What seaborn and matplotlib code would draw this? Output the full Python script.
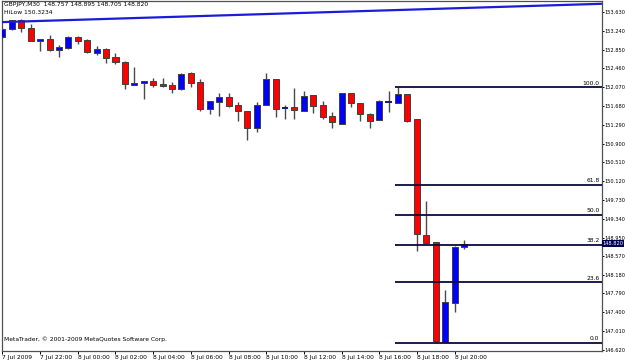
import numpy as np
import pandas as pd
import matplotlib
matplotlib.use("Agg")
import matplotlib.pyplot as plt
from matplotlib import font_manager
import seaborn as sns

# ---- data (GBPJPY M30, 7 Jul 2009 20:00 .. 8 Jul 20:30) ----
opens = [153.111, 153.277, 153.464, 153.292, 153.035, 153.064, 152.842, 152.877, 153.105, 153.055,
         152.786, 152.869, 152.696, 152.599, 152.115, 152.163, 152.192, 152.130, 152.109, 152.039,
         152.371, 152.184, 151.611, 151.757, 151.866, 151.694, 151.570, 151.230, 151.701, 152.234,
         151.638, 151.659, 151.582, 151.902, 151.701, 151.479, 151.313, 151.943, 151.736, 151.520,
         151.389, 151.757, 151.748, 151.923, 151.404, 149.003, 148.858, 146.783, 147.599, 148.757]
highs = [153.298, 153.474, 153.479, 153.381, 153.070, 153.153, 152.945, 153.126, 153.138, 153.070,
         152.925, 152.883, 152.786, 152.603, 152.495, 152.205, 152.267, 152.267, 152.184, 152.364,
         152.391, 152.240, 151.790, 151.949, 151.949, 151.763, 151.576, 151.769, 152.358, 152.240,
         151.707, 152.047, 151.991, 151.908, 151.784, 151.555, 151.956, 151.949, 151.742, 151.541,
         151.804, 151.997, 152.070, 151.929, 151.410, 149.709, 148.860, 147.862, 148.770, 148.895]
lows = [153.091, 153.257, 153.221, 153.022, 152.827, 152.827, 152.703, 152.869, 152.972, 152.786,
        152.738, 152.566, 152.557, 152.026, 152.109, 151.819, 152.074, 152.068, 151.956, 152.006,
        152.080, 151.582, 151.520, 151.479, 151.653, 151.369, 150.968, 151.147, 151.690, 151.458,
        151.410, 151.404, 151.576, 151.541, 151.404, 151.230, 151.306, 151.665, 151.375, 151.217,
        151.383, 151.562, 151.742, 151.342, 148.678, 148.837, 146.770, 146.775, 147.412, 148.705]
closes = [153.277, 153.464, 153.292, 153.035, 153.064, 152.848, 152.898, 153.111, 153.035, 152.794,
          152.869, 152.682, 152.593, 152.130, 152.163, 152.198, 152.115, 152.101, 152.026, 152.350,
          152.151, 151.611, 151.784, 151.866, 151.686, 151.576, 151.230, 151.701, 152.234, 151.611,
          151.638, 151.591, 151.887, 151.686, 151.458, 151.342, 151.943, 151.748, 151.520, 151.369,
          151.784, 151.757, 151.923, 151.375, 149.018, 148.844, 146.798, 147.607, 148.757, 148.820]

time_tick_bars = [0, 4, 8, 12, 16, 20, 24, 28, 32, 36, 40, 44, 48]
time_labels = ["7 Jul 2009", "7 Jul 22:00", "8 Jul 00:00", "8 Jul 02:00", "8 Jul 04:00",
               "8 Jul 06:00", "8 Jul 08:00", "8 Jul 10:00", "8 Jul 12:00", "8 Jul 14:00",
               "8 Jul 16:00", "8 Jul 18:00", "8 Jul 20:00"]
price_ticks = [146.620, 147.010, 147.400, 147.790, 148.180, 148.570, 148.950, 149.340, 149.730,
               150.120, 150.510, 150.900, 151.290, 151.680, 152.070, 152.460, 152.850, 153.240, 153.630]
price_tick_labels = ["146.620", "147.010", "147.400", "147.790", "148.180", "148.570", "148.950",
                     "149.340", "149.730", "150.120", "150.510", "150.900", "151.290", "151.680",
                     "152.070", "152.460", "152.850", "153.240", "153.630"]
current_price = 148.820
fib_levels = [0.0, 23.6, 38.2, 50.0, 61.8, 100.0]
fib_high = 152.070
fib_low = 146.770
fib_start_bar = 42
hilow_x = [-0.05, 63.6]
hilow_y = [153.42, 153.80]
title_text = "GBPJPY,M30  148.757 148.895 148.705 148.820"
hilow_text = "HiLow 150.3234"
copyright_text = "MetaTrader, \u00a9 2001-2009 MetaQuotes Software Corp."

# ---- style ----
sns.set_style("white")
plt.rcParams["font.family"] = ["DejaVu Sans"]
has_cond = any(f.name == "DejaVu Sans" and str(f.stretch) in ("condensed", "semi-condensed", "600", "500")
               for f in font_manager.fontManager.ttflist)
FS = 4.3
YFS = 4.1 if has_cond else 3.8
YSTRETCH = "condensed"

W, H = 625, 362
fig = plt.figure(figsize=(W / 100, H / 100), dpi=100)
fig.patch.set_facecolor("white")
ax = fig.add_axes([2 / W, (H - 350.5) / H, 599.5 / W, 349.5 / H])
ax.set_facecolor("white")

df = pd.DataFrame({"open": opens, "high": highs, "low": lows, "close": closes})
df["bar"] = np.arange(len(df))
df["bottom"] = df[["open", "close"]].min(axis=1)
df["height"] = (df["close"] - df["open"]).abs()
df["up"] = df["close"] >= df["open"]

# wicks
ax.vlines(df["bar"], df["low"], df["high"], color="#4a4a4a", lw=1.0, zorder=2)
# bodies
body = df[df["height"] > 0]
colors = np.where(body["up"], "#0000ff", "#ff0000")
ax.bar(body["bar"], body["height"], bottom=body["bottom"], width=0.64,
       color=colors, edgecolor="#404040", linewidth=0.7, zorder=3)
doji = df[df["height"] == 0]
ax.hlines(doji["open"], doji["bar"] - 0.34, doji["bar"] + 0.34, color="#1a1a60", lw=1.4, zorder=3)

# HiLow trend line
sns.lineplot(x=hilow_x, y=hilow_y, ax=ax, color="#1c1cd8", lw=1.6, zorder=4)

# Fibonacci retracement
for lv in fib_levels:
    p = fib_low + (fib_high - fib_low) * lv / 100.0
    ax.hlines(p, fib_start_bar - 0.3, 63.6, color="#0a0a40", lw=1.3, zorder=4)
    ax.annotate(f"{lv:.1f}", xy=(1, p), xycoords=("axes fraction", "data"),
                xytext=(-1.5, 1.2), textcoords="offset points", ha="right", va="bottom",
                fontsize=FS, color="black")

ax.set_xlim(-0.05, 63.6)
ax.set_ylim(146.607, 153.858)

# axes ticks
ax.yaxis.tick_right()
ax.set_yticks(price_ticks)
ax.set_yticklabels(price_tick_labels)
ax.set_xticks(time_tick_bars)
ax.set_xticklabels(time_labels)
for lab in ax.get_xticklabels():
    lab.set_horizontalalignment("left")
for lab in ax.get_yticklabels():
    lab.set_fontstretch(YSTRETCH)
ax.tick_params(axis="y", which="both", right=True, left=False, length=1.6, width=0.7,
               pad=0.6, labelsize=YFS, colors="black", direction="out")
ax.tick_params(axis="x", which="both", bottom=True, length=2.5, width=0.7,
               pad=1.0, labelsize=FS, colors="black", direction="out")
for s in ax.spines.values():
    s.set_color("#505050")
    s.set_linewidth(0.9)
    s.set_visible(True)

# current price box
ax.annotate(f"{current_price:.3f}", xy=(1, current_price), xycoords=("axes fraction", "data"),
            xytext=(0.8, 0), textcoords="offset points", ha="left", va="center",
            fontsize=YFS, fontstretch=YSTRETCH, color="white",
            bbox=dict(boxstyle="square,pad=0.15", fc="#000050", ec="none"), zorder=6,
            annotation_clip=False)

# header texts
fig.text(4 / W, 1 - 4.5 / H, title_text, fontsize=FS, ha="left", va="center", color="black")
fig.text(4 / W, 1 - 12.5 / H, hilow_text, fontsize=FS, ha="left", va="center", color="black")
fig.text(4 / W, 1 - 339 / H, copyright_text, fontsize=FS, ha="left", va="center", color="black")

fig.savefig("out.png", dpi=100, facecolor="white")
